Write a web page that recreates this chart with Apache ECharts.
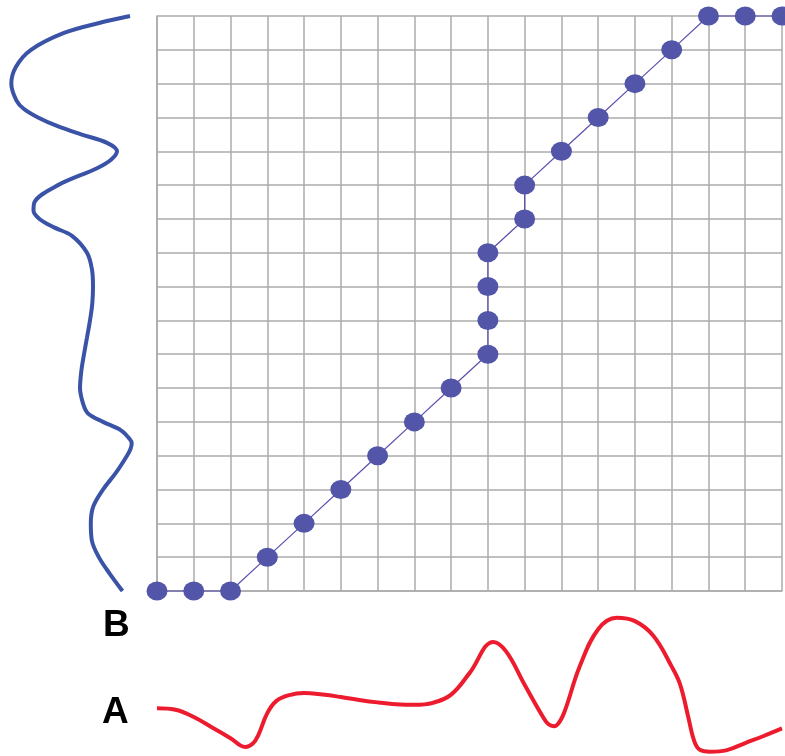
<!DOCTYPE html>
<html>
<head>
<meta charset="utf-8">
<style>
  html, body { margin: 0; padding: 0; background: #ffffff; }
  #chart { width: 785px; height: 756px; }
</style>
<script src="https://cdn.jsdelivr.net/npm/echarts@6/dist/echarts.min.js"></script>
</head>
<body>
<div id="chart"></div>
<script>
// Quantile pairs: position of A (x) against position of B (y)
const qqX = [0, 1, 2, 3, 4, 5, 6, 7, 8, 9, 9, 9, 9, 10, 10, 11, 12, 13, 14, 15, 16, 17];
const qqY = [0, 0, 0, 1, 2, 3, 4, 5, 6, 7, 8, 9, 10, 11, 12, 13, 14, 15, 16, 17, 17, 17];

// Density of A along the horizontal scale
const densA_x = [0, 0.5, 1, 1.5, 2, 2.4, 2.6, 2.75, 3, 3.25, 3.6, 4, 4.5, 5, 5.5, 6, 6.5, 7, 7.5, 8, 8.5, 9.15, 9.5, 10, 10.5, 10.65, 10.8, 10.95, 11.1, 11.5, 12, 12.5, 13, 13.5, 14, 14.23, 14.45, 14.6, 14.75, 15.05, 15.5, 16, 16.5, 17];
const densA = [0.49, 0.475, 0.40, 0.293, 0.183, 0.093, 0.125, 0.21, 0.44, 0.565, 0.625, 0.645, 0.63, 0.605, 0.575, 0.55, 0.532, 0.525, 0.545, 0.63, 0.85, 1.17, 1.07, 0.73, 0.40, 0.325, 0.305, 0.35, 0.47, 0.92, 1.30, 1.417, 1.383, 1.233, 0.917, 0.733, 0.40, 0.167, 0.067, 0.043, 0.06, 0.133, 0.205, 0.283];

// Density of B along the vertical scale
const densB_y = [17, 16.8, 16.5, 16, 15.5, 15, 14.5, 14.25, 14, 13.75, 13.5, 13.25, 13, 12.75, 12.5, 12, 11.5, 11.25, 11, 10.75, 10.5, 10, 9.5, 9, 8.5, 8, 7.5, 7, 6.5, 6, 5.5, 5.25, 5, 4.75, 4.5, 4.37, 4.2, 4, 3.5, 3, 2.5, 2, 1.5, 1, 0.5, 0];
const densB = [0.10, 0.40, 0.76, 1.09, 1.24, 1.287, 1.235, 1.16, 1.02, 0.83, 0.59, 0.33, 0.23, 0.29, 0.43, 0.82, 1.055, 1.065, 1.005, 0.86, 0.68, 0.53, 0.48, 0.47, 0.477, 0.50, 0.53, 0.56, 0.587, 0.60, 0.565, 0.52, 0.37, 0.19, 0.105, 0.083, 0.095, 0.13, 0.24, 0.37, 0.467, 0.492, 0.482, 0.412, 0.30, 0.175];

const labelA = 'A';
const labelB = 'B';

const chart = echarts.init(document.getElementById('chart'), null, { renderer: 'canvas' });

const gridLine = { show: true, lineStyle: { color: '#ababab', width: 1.5 } };
const hidden = { show: false };

chart.setOption({
  animation: false,
  backgroundColor: '#ffffff',
  grid: [
    { left: 157, top: 16, width: 625, height: 575 },   // main quantile grid
    { left: 157, top: 600, width: 625, height: 160 },  // density of A below
    { left: 0, top: 16, width: 140, height: 575 }       // density of B at left
  ],
  xAxis: [
    { gridIndex: 0, type: 'value', min: 0, max: 17, interval: 1,
      axisLine: { show: true, lineStyle: { color: '#ababab', width: 1.5 } },
      axisTick: hidden, axisLabel: hidden, splitLine: gridLine },
    { gridIndex: 1, type: 'value', min: 0, max: 17,
      axisLine: hidden, axisTick: hidden, axisLabel: hidden, splitLine: hidden },
    { gridIndex: 2, type: 'value', min: 0, max: 1.4, inverse: true,
      axisLine: hidden, axisTick: hidden, axisLabel: hidden, splitLine: hidden }
  ],
  yAxis: [
    { gridIndex: 0, type: 'value', min: 0, max: 17, interval: 1,
      axisLine: { show: true, lineStyle: { color: '#ababab', width: 1.5 } },
      axisTick: hidden, axisLabel: hidden, splitLine: gridLine },
    { gridIndex: 1, type: 'value', min: 0, max: 1.6,
      axisLine: hidden, axisTick: hidden, axisLabel: hidden, splitLine: hidden },
    { gridIndex: 2, type: 'value', min: 0, max: 17,
      axisLine: hidden, axisTick: hidden, axisLabel: hidden, splitLine: hidden }
  ],
  series: [
    {
      type: 'line', xAxisIndex: 0, yAxisIndex: 0,
      data: qqX.map((x, i) => [x, qqY[i]]),
      symbol: 'circle', symbolSize: [21, 19],
      itemStyle: { color: '#5356a8' },
      lineStyle: { color: '#5b4fae', width: 1.2 },
      clip: false, z: 5
    },
    {
      type: 'line', xAxisIndex: 1, yAxisIndex: 1,
      data: densA_x.map((x, i) => [x, densA[i]]),
      smooth: 0.4, symbol: 'none',
      lineStyle: { color: '#ec1c2e', width: 4 },
      clip: false
    },
    {
      type: 'line', xAxisIndex: 2, yAxisIndex: 2,
      data: densB_y.map((y, i) => [densB[i], y]),
      smooth: 0.35, symbol: 'none',
      lineStyle: { color: '#3a53a6', width: 4 },
      clip: false
    }
  ],
  graphic: [
    { type: 'text', left: 103, top: 607,
      style: { text: labelB, font: 'bold 37px "Liberation Sans", Arial, sans-serif', fill: '#000000' } },
    { type: 'text', left: 102, top: 694,
      style: { text: labelA, font: 'bold 37px "Liberation Sans", Arial, sans-serif', fill: '#000000' } }
  ]
});
</script>
</body>
</html>
